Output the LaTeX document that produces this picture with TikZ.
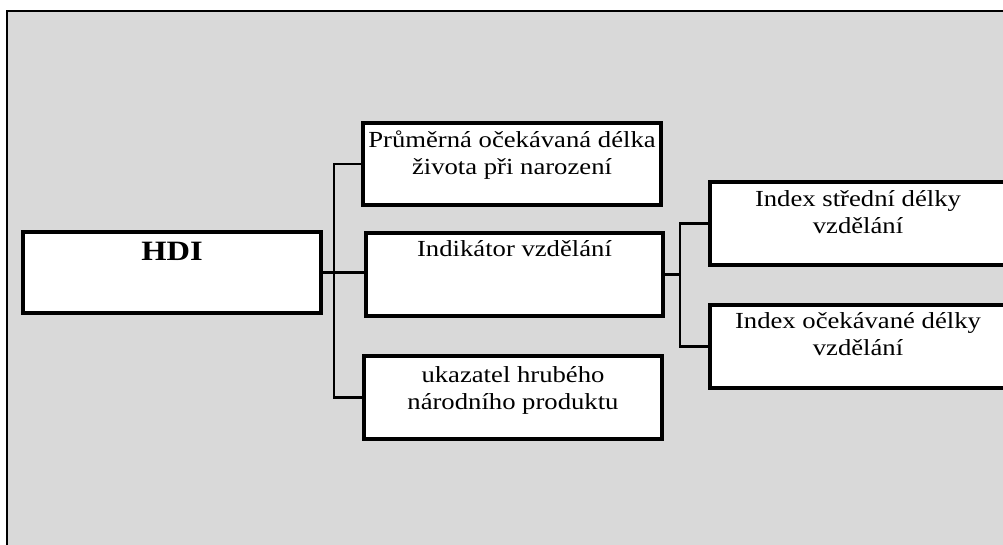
\documentclass[tikz,border=0pt]{standalone}
\usepackage{fontspec}
\setmainfont{Liberation Serif}[FakeStretch=1.16]
\usepackage{tikz}
\usetikzlibrary{calc}

\begin{document}
\begin{tikzpicture}[x=1pt,y=-1pt,inner sep=0,outer sep=0,
    box/.style={draw=black,fill=white,line width=3.2pt,anchor=north west,
      font=\fontsize{23}{27}\selectfont},
    wire/.style={draw=black,line width=2.8pt}]

    % Page and grey panel
    \useasboundingbox (0,0) rectangle (1003,544);
    \clip (0,0) rectangle (1003,544);
    \draw[fill=black!15,line width=2.4pt] (7,11) rectangle (1020,560);

    % The boxes
    \node[box,font=\fontsize{28}{32}\selectfont\bfseries] (hdi) at (23,232)
      {\parbox[t][81pt][t]{298pt}{\centering\vspace{10pt}HDI}};
    \node[box] (zivot) at (363,123)
      {\parbox[t][82pt][t]{298pt}{\centering\vspace{8pt}Průměrná očekávaná délka\\ života při narození}};
    \node[box] (vzdel) at (366,233)
      {\parbox[t][83pt][t]{297pt}{\centering\vspace{7pt}Indikátor vzdělání}};
    \node[box] (hnp) at (364,356)
      {\parbox[t][83pt][t]{298pt}{\centering\vspace{11pt}ukazatel hrubého\\ národního produktu}};
    \node[box] (stred) at (710,182)
      {\parbox[t][83pt][t]{296pt}{\centering\vspace{8pt}Index střední délky\\ vzdělání}};
    \node[box] (ocek) at (710,305)
      {\parbox[t][83pt][t]{296pt}{\centering\vspace{7pt}Index očekávané délky\\ vzdělání}};

    % Branch points
    \coordinate (j1) at (334,0);
    \coordinate (j2) at (680,0);

    % Connectors
    \draw[wire] (hdi.east) -- (hdi.east -| vzdel.west);
    \draw[wire] (zivot.west) -- (zivot.west -| j1) -- (hnp.west -| j1) -- (hnp.west);
    \draw[wire] (vzdel.east) -- (vzdel.east -| j2);
    \draw[wire] (stred.west) -- (stred.west -| j2) -- (ocek.west -| j2) -- (ocek.west);

  \end{tikzpicture}
\end{document}
